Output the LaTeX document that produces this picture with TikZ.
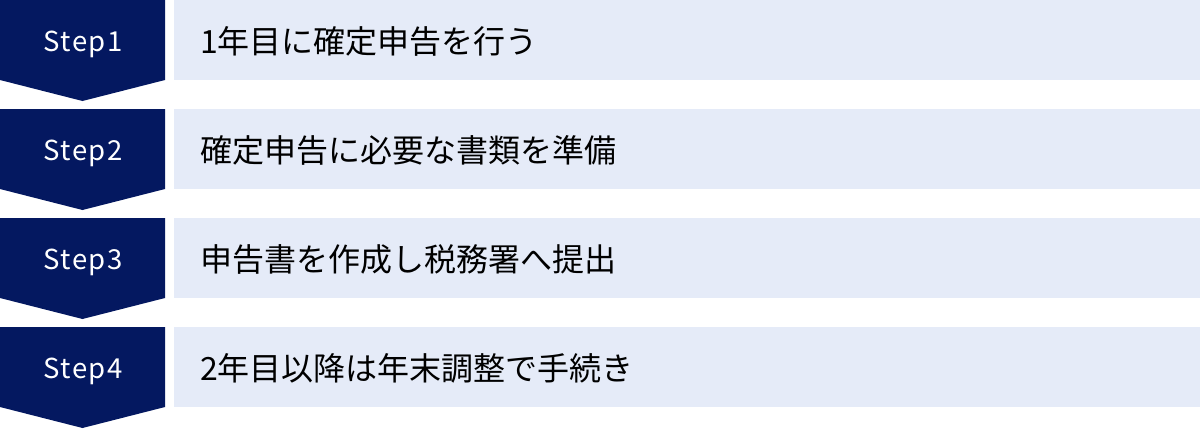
\documentclass[tikz,border=0pt]{standalone}
\usepackage{fontspec}
\setmainfont{Noto Sans CJK JP}
\newfontfamily\stepfont[LetterSpace=6]{Noto Sans CJK JP}
\definecolor{navy}{RGB}{4,24,96}
\definecolor{lightbg}{RGB}{229,235,248}
\begin{document}
\begin{tikzpicture}[x=1pt,y=-1pt,
  lbox/.style={fill=lightbg, draw=none, anchor=north west, minimum width=1026pt, minimum height=80pt, inner sep=0pt},
  steplabel/.style={text=white, font=\stepfont\fontsize{27.5}{32}\selectfont, inner sep=0pt, anchor=base},
  itemtext/.style={text=black, font=\fontsize{32}{38}\selectfont, anchor=west, inner sep=0pt}]
\useasboundingbox (0,0) rectangle (1200,429);
\foreach \i/\t in {1/0,2/109,3/218,4/327}{
  \fill[navy] (0,\t) -- (165,\t) -- (165,\t+80) -- (82.5,\t+101) -- (0,\t+80) -- cycle;
  \node[lbox] (box\i) at (174,\t) {};
  \node[steplabel] (step\i) at (83,\t+51) {Step\i};
}
\node[itemtext] (t1) at (200,41) {1年目に確定申告を行う};
\node[itemtext] (t2) at (200,150) {確定申告に必要な書類を準備};
\node[itemtext] (t3) at (200,259) {申告書を作成し税務署へ提出};
\node[itemtext] (t4) at (200,368) {2年目以降は年末調整で手続き};
\end{tikzpicture}
\end{document}
